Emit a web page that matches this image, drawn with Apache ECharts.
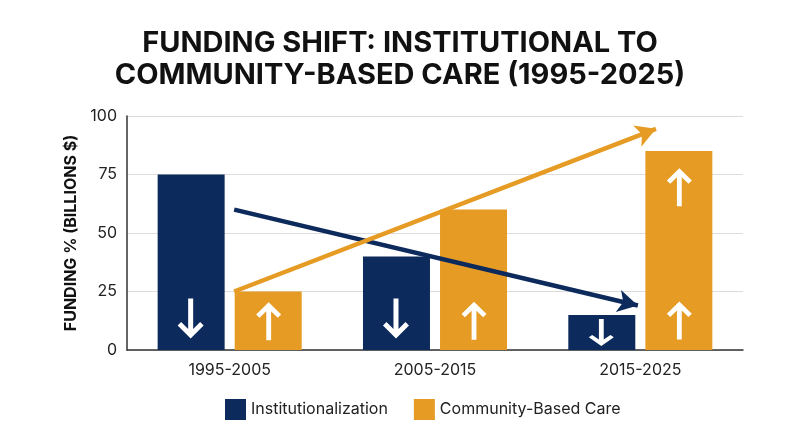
<!DOCTYPE html>
<html>
<head>
<meta charset="utf-8">
<script src="https://cdn.jsdelivr.net/npm/echarts@6/dist/echarts.min.js"></script>
<style>
  html, body { margin: 0; padding: 0; background: #fff; }
  #main { width: 800px; height: 447px; }
</style>
</head>
<body>
<div id="main"></div>
<script>
// 数据
var periods = ['1995-2005', '2005-2015', '2015-2025'];
var institutional = [75, 40, 15];
var community = [25, 60, 85];
var yTicks = [0, 25, 50, 75, 100];

// 趋势箭头 (x 为类目位置, 0..3)
var instTrend = [[0.522, 60], [2.488, 19]];
var commTrend = [[0.522, 25], [2.576, 94.5]];

// 柱内白色箭头的数值位置
var downArrowY = [13.5, 13.5, 7.5];
var upArrowY = [[12.3], [12.5], [12.6, 69.5]];

var NAVY = '#0d2a5c';
var ORANGE = '#e69c24';
var FONT = 'Inter, "Noto Sans", sans-serif';

var barOffset = 0.19; // 柱中心相对类目中心的偏移

var downPath = 'path://M10.5 0 L15.5 0 L15.5 31 L22.5 24 L26 27.5 L13 40.5 L0 27.5 L3.5 24 L10.5 31 Z';
var upPath = 'path://M10.5 40.5 L15.5 40.5 L15.5 9.5 L22.5 16.5 L26 13 L13 0 L0 13 L3.5 16.5 L10.5 9.5 Z';

var downData = downArrowY.map(function (v, i) {
  return { value: [i + 0.5 - barOffset, v], symbolSize: i === 2 ? [25, 27] : [26, 40] };
});
var upData = [];
upArrowY.forEach(function (list, i) {
  list.forEach(function (v) {
    upData.push({ value: [i + 0.5 + barOffset, v], symbolSize: [25, 38] });
  });
});

var myChart = echarts.init(document.getElementById('main'));
myChart.setOption({
  animation: false,
  backgroundColor: '#fff',
  title: {
    text: 'FUNDING SHIFT: INSTITUTIONAL TO\nCOMMUNITY-BASED CARE (1995-2025)',
    left: 'center',
    top: 22,
    textStyle: {
      fontFamily: FONT,
      fontWeight: 700,
      fontSize: 29,
      lineHeight: 32,
      color: '#111'
    }
  },
  legend: {
    left: 220,
    top: 394,
    itemWidth: 21,
    itemHeight: 21,
    itemGap: 26,
    icon: 'rect',
    textStyle: { fontFamily: FONT, fontSize: 16, color: '#222' },
    data: ['Institutionalization', 'Community-Based Care']
  },
  grid: { left: 127, right: 57, top: 116, bottom: 97 },
  xAxis: [
    {
      type: 'category',
      data: periods,
      axisTick: { show: false },
      axisLine: { lineStyle: { color: '#333', width: 1.5 } },
      axisLabel: { fontFamily: FONT, fontSize: 16, color: '#222', margin: 12 }
    },
    {
      type: 'value',
      min: 0,
      max: 3,
      show: false
    }
  ],
  yAxis: {
    type: 'value',
    min: 0,
    max: 100,
    interval: 25,
    name: 'FUNDING % (BILLIONS $)',
    nameLocation: 'middle',
    nameGap: 47,
    nameTextStyle: { fontFamily: FONT, fontWeight: 700, fontSize: 16, color: '#111' },
    axisLine: { show: true, lineStyle: { color: '#333', width: 1.5 } },
    axisTick: { show: false },
    axisLabel: {
      fontFamily: FONT, fontSize: 16, color: '#222', margin: 10,
      formatter: function (v) { return yTicks.indexOf(v) >= 0 ? v : ''; }
    },
    splitLine: { lineStyle: { color: '#dcdcdc', width: 1 } }
  },
  series: [
    {
      name: 'Institutionalization',
      type: 'bar',
      data: institutional,
      barWidth: 67,
      barGap: '15%',
      itemStyle: { color: NAVY }
    },
    {
      name: 'Community-Based Care',
      type: 'bar',
      data: community,
      barWidth: 67,
      barGap: '15%',
      itemStyle: { color: ORANGE }
    },
    {
      type: 'line',
      xAxisIndex: 1,
      data: instTrend,
      symbol: 'none',
      lineStyle: { width: 0 },
      silent: true,
      z: 5,
      markLine: {
        silent: true,
        symbol: ['none', 'arrow'],
        symbolSize: [17, 20],
        label: { show: false },
        lineStyle: { color: NAVY, width: 4.5, type: 'solid' },
        data: [[{ coord: instTrend[0] }, { coord: instTrend[1] }]]
      }
    },
    {
      type: 'line',
      xAxisIndex: 1,
      data: commTrend,
      symbol: 'none',
      lineStyle: { width: 0 },
      silent: true,
      z: 5,
      markLine: {
        silent: true,
        symbol: ['none', 'arrow'],
        symbolSize: [17, 20],
        label: { show: false },
        lineStyle: { color: ORANGE, width: 4.5, type: 'solid' },
        data: [[{ coord: commTrend[0] }, { coord: commTrend[1] }]]
      }
    },
    {
      type: 'scatter',
      xAxisIndex: 1,
      symbol: downPath,
      data: downData,
      itemStyle: { color: '#fff', opacity: 1 },
      silent: true,
      z: 4
    },
    {
      type: 'scatter',
      xAxisIndex: 1,
      symbol: upPath,
      data: upData,
      itemStyle: { color: '#fff', opacity: 1 },
      silent: true,
      z: 4
    }
  ]
});
</script>
</body>
</html>
